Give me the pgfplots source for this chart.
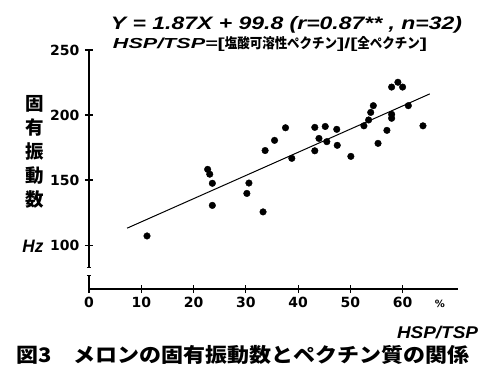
\documentclass[border=0pt]{standalone}
\usepackage{pgfplots}
\pgfplotsset{compat=1.18}
\usepackage{pgfplotstable}
\usepackage{graphicx}
\usepackage{fontspec}
\setmainfont{Liberation Sans}
\newfontfamily\cjk{Noto Sans CJK JP}
\newfontfamily\tickfont{DejaVu Sans}

\pgfplotstableread{
x y
11.1 107
22.7 158.2
23.1 154.5
23.6 147.5
23.6 130.5
30.2 139.7
30.6 147.7
33.3 125.5
33.7 172.7
35.5 180.5
37.6 190.2
38.8 166.7
43.2 190.5
43.2 172.5
44.0 182
45.2 191.2
45.5 179.5
47.4 189
47.5 176.7
50.1 168.2
52.6 191.7
53.5 196.2
53.9 202
54.4 207.2
55.3 178.2
57.0 188.2
57.9 200.5
57.9 197.5
57.9 221.5
59.1 225.2
60.0 221.5
61.1 207.2
63.9 191.7
}\pts

\begin{document}
\begin{tikzpicture}
\useasboundingbox (-89pt,-84pt) rectangle (390pt,289pt);
\begin{axis}[
  at={(0pt,0pt)}, anchor=south west,
  scale only axis, width=369pt, height=239pt,
  xmin=0, xmax=70.6, ymin=66.2, ymax=250,
  axis x line=bottom, axis y line=left,
  axis line style={-, line width=1.2pt},
  xtick={0,10,...,60}, ytick={100,150,200,250},
  tick align=center, major tick length=8pt,
  every tick/.style={line width=1.1pt, black},
  /pgf/number format/assume math mode=true,
  ticklabel style={font=\tickfont\bfseries\fontsize{14}{14}\selectfont},
  yticklabel style={xshift=-2pt},
  xticklabel style={yshift=-1pt},
  clip=false,
]
\addplot[only marks, mark=*, mark size=3.3pt, black] table {\pts};
\addplot[black, line width=1pt] coordinates {(7.3,113) (65.2,216.25)};
\coordinate (b1) at (axis cs:0,82.5);
\coordinate (b2) at (axis cs:0,76.5);
\end{axis}
\fill[white] ([xshift=-3pt]b2) rectangle ([xshift=3pt]b1);
\draw[line width=1pt] ([xshift=-2pt]b1) -- ([xshift=2pt]b1);
\draw[line width=1pt] ([xshift=-2pt]b2) -- ([xshift=2pt]b2);

\node[font=\bfseries\itshape\fontsize{18}{18}\selectfont] at (197.5pt,264pt)
  {\resizebox{351pt}{\height}{Y = 1.87X + 99.8 (r=0.87** , n=32)}};
\node at (181pt,245pt) {\resizebox{314pt}{\height}{\fontsize{14.5}{15}\selectfont\bfseries\itshape HSP/TSP=\upshape[\scalebox{0.6}[1]{\cjk\bfseries\fontsize{14}{14}\selectfont 塩酸可溶性ペクチン}]/[\scalebox{0.6}[1]{\cjk\bfseries\fontsize{14}{14}\selectfont 全ペクチン}]}};

\node[font=\cjk\bfseries\fontsize{18.5}{24}\selectfont, align=center] at (-54pt,137.5pt) {固\\有\\振\\動\\数};
\node[font=\bfseries\itshape\fontsize{18}{18}\selectfont] at (-56pt,43pt) {\resizebox{21pt}{\height}{Hz}};
\node[font=\tickfont\bfseries\fontsize{10}{10}\selectfont] at (351pt,-15pt) {\%};
\node[font=\bfseries\itshape\fontsize{17}{17}\selectfont] at (348.5pt,-44pt) {\resizebox{81pt}{\height}{HSP/TSP}};
\node[font=\cjk\bfseries\fontsize{20}{20}\selectfont] at (154pt,-66pt) {\resizebox{453pt}{\height}{図3　メロンの固有振動数とペクチン質の関係}};
\end{tikzpicture}
\end{document}
